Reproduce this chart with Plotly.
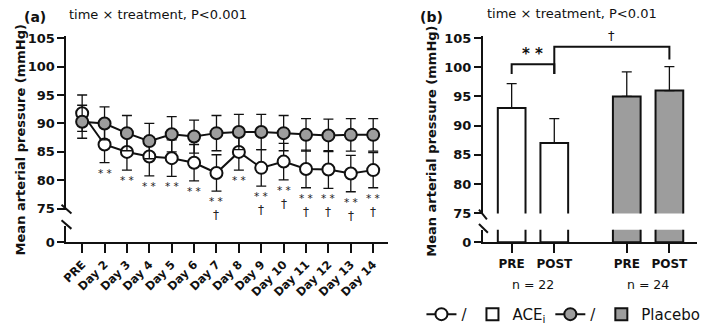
import plotly.graph_objects as go

# ---------------- data ----------------
days = ["PRE", "Day 2", "Day 3", "Day 4", "Day 5", "Day 6", "Day 7", "Day 8",
        "Day 9", "Day 10", "Day 11", "Day 12", "Day 13", "Day 14"]
ace_mean = [91.8, 86.3, 85.0, 84.2, 83.9, 83.1, 81.3, 85.0, 82.2, 83.3, 82.0, 81.9, 81.2, 81.8]
ace_sd = [3.2, 3.2, 3.2, 3.4, 3.2, 3.2, 3.2, 3.2, 3.2, 3.2, 3.3, 3.3, 3.2, 3.1]
pla_mean = [90.3, 90.0, 88.3, 86.9, 88.1, 87.7, 88.3, 88.5, 88.5, 88.3, 88.0, 87.9, 88.0, 88.0]
pla_sd = [2.9, 2.9, 3.1, 3.1, 3.1, 2.9, 3.1, 3.1, 3.1, 3.1, 2.85, 2.85, 2.85, 2.85]
sig_vs_pre = [False] + [True] * 13
sig_vs_placebo = [False, False, False, False, False, False, True, False, True, True, True, True, True, True]

times = ["PRE", "POST"]
ace_bar = [93.0, 87.0]
ace_bar_sd = [4.2, 4.2]
pla_bar = [95.0, 96.0]
pla_bar_sd = [4.2, 4.1]
group_n = [22, 24]
y_ticks = [75, 80, 85, 90, 95, 100, 105]

# ---------------- style ----------------
W, H = 709, 332
FONT = "DejaVu Sans"
GRAY = "#9d9d9d"
BLACK = "#111111"


def px_x(p):
    return p / W


def px_y(p):
    return 1 - p / H


group_offset = [0.0, 2.7]
ace_pos = [group_offset[0] + j for j in range(len(times))]
pla_pos = [group_offset[1] + j for j in range(len(times))]

fig = go.Figure()

# ---------- panel (a) ----------
fig.add_trace(go.Scatter(
    x=days, y=ace_mean, xaxis="x", yaxis="y", mode="lines+markers", name="/",
    legendrank=1,
    line=dict(color=BLACK, width=2),
    marker=dict(size=12, color="white", line=dict(color=BLACK, width=2)),
    error_y=dict(type="data", array=ace_sd, color=BLACK, thickness=1.3, width=5),
    cliponaxis=False,
))
fig.add_trace(go.Scatter(
    x=days, y=pla_mean, xaxis="x", yaxis="y", mode="lines+markers", name="/",
    legendrank=3,
    line=dict(color=BLACK, width=2),
    marker=dict(size=12, color=GRAY, line=dict(color=BLACK, width=2)),
    error_y=dict(type="data", array=pla_sd, color=BLACK, thickness=1.3, width=5),
    cliponaxis=False,
))
fig.add_trace(go.Scatter(x=days, y=[None] * len(days), xaxis="x3", yaxis="y3",
                         mode="markers", showlegend=False, hoverinfo="skip"))

# ---------- panel (b) ----------
fig.add_trace(go.Bar(
    x=ace_pos, y=ace_bar, xaxis="x2", yaxis="y2", width=0.65, name="ACE<sub>i</sub>",
    legendrank=2,
    marker=dict(color="white", line=dict(color=BLACK, width=2)),
    error_y=dict(type="data", symmetric=False, array=ace_bar_sd, arrayminus=[0, 0],
                 color=BLACK, thickness=1.3, width=5),
))
fig.add_trace(go.Bar(
    x=pla_pos, y=pla_bar, xaxis="x2", yaxis="y2", width=0.65, name="Placebo",
    legendrank=4,
    marker=dict(color=GRAY, line=dict(color=BLACK, width=2)),
    error_y=dict(type="data", symmetric=False, array=pla_bar_sd, arrayminus=[0, 0],
                 color=BLACK, thickness=1.3, width=5),
))
fig.add_trace(go.Bar(
    x=ace_pos, y=ace_bar, xaxis="x4", yaxis="y4", width=0.65, showlegend=False,
    marker=dict(color="white", line=dict(color=BLACK, width=2)), hoverinfo="skip",
))
fig.add_trace(go.Bar(
    x=pla_pos, y=pla_bar, xaxis="x4", yaxis="y4", width=0.65, showlegend=False,
    marker=dict(color=GRAY, line=dict(color=BLACK, width=2)), hoverinfo="skip",
))

# ---------- axes ----------
yfont = dict(family=FONT, size=13, color=BLACK, weight="bold")
common_y = dict(showline=True, linewidth=2, linecolor=BLACK, ticks="outside",
                ticklen=7, tickwidth=2, tickcolor=BLACK, showgrid=False,
                zeroline=False, tickfont=yfont)
hidden_x = dict(showline=False, showticklabels=False, ticks="", showgrid=False,
                zeroline=False)

left_dom = [px_x(61), px_x(385)]
right_dom = [px_x(481), px_x(697)]
x_range_a = [-0.7, 13.65]
x_range_b = [-0.674, 4.35]

fig.update_layout(
    xaxis=dict(domain=left_dom, anchor="y", type="category", categoryarray=days,
               range=x_range_a, **hidden_x),
    yaxis=dict(domain=[px_y(213.3), px_y(32.1)], anchor="x", range=[74.8, 105.4],
               tickvals=y_ticks, **common_y),
    xaxis3=dict(domain=left_dom, anchor="y3", type="category", categoryarray=days,
                range=x_range_a, showline=True, linewidth=2, linecolor=BLACK,
                ticks="outside", ticklen=9, tickwidth=2, tickcolor=BLACK,
                tickangle=-45, showgrid=False, zeroline=False,
                tickfont=dict(family=FONT, size=11.5, color=BLACK, weight="bold")),
    yaxis3=dict(domain=[px_y(247), px_y(230)], anchor="x3", range=[0, 3],
                tickvals=[0], **common_y),
    xaxis2=dict(domain=right_dom, anchor="y2", range=x_range_b, **hidden_x),
    yaxis2=dict(domain=[px_y(217), px_y(31.9)], anchor="x2", range=[74.95, 105.4],
                tickvals=y_ticks, **common_y),
    xaxis4=dict(domain=right_dom, anchor="y4", range=x_range_b,
                tickvals=ace_pos + pla_pos, ticktext=times + times,
                showline=True, linewidth=2, linecolor=BLACK,
                ticks="outside", ticklen=9, tickwidth=2, tickcolor=BLACK,
                showgrid=False, zeroline=False,
                tickfont=dict(family=FONT, size=12, color=BLACK, weight="bold")),
    yaxis4=dict(domain=[px_y(247), px_y(234)], anchor="x4", range=[0, 2],
                tickvals=[0], **common_y),
)

# ---------- annotations ----------
ann = []
for i, d in enumerate(days):
    if not (sig_vs_pre[i] or sig_vs_placebo[i]):
        continue
    lines = []
    if sig_vs_pre[i]:
        lines.append("* *")
    if sig_vs_placebo[i]:
        lines.append("<span style='font-size:12px'>†</span>")
    ann.append(dict(x=d, y=ace_mean[i] - ace_sd[i], xref="x", yref="y",
                    text="<br>".join(lines), showarrow=False,
                    xanchor="center", yanchor="top", yshift=-2,
                    font=dict(family=FONT, size=10.5, color="#222222")))

# n labels
for g, n in enumerate(group_n):
    pos = ace_pos if g == 0 else pla_pos
    ann.append(dict(x=sum(pos) / len(pos), y=px_y(290.7), xref="x4", yref="paper",
                    xanchor="center", yanchor="middle",
                    text=f"n = {n}", showarrow=False,
                    font=dict(family=FONT, size=12.5, color=BLACK)))

# significance in panel b
ann.append(dict(x=(ace_pos[0] + ace_pos[1]) / 2, y=px_y(51), xref="x2", yref="paper",
                xanchor="center", yanchor="middle",
                text="<b>* *</b>", showarrow=False,
                font=dict(family=FONT, size=15, color=BLACK)))
ann.append(dict(x=(ace_pos[1] + pla_pos[1]) / 2, y=px_y(32), xref="x2", yref="paper",
                xanchor="center", yanchor="middle",
                text="†", showarrow=False, font=dict(family=FONT, size=13, color=BLACK)))

# titles
center = dict(xanchor="center", yanchor="middle", showarrow=False,
              xref="paper", yref="paper")
ann += [
    dict(x=px_x(29), y=px_y(12), text="<b>(a)</b>",
         font=dict(family=FONT, size=14, color=BLACK), **center),
    dict(x=px_x(62), y=px_y(10), xref="paper", yref="paper", xanchor="left",
         yanchor="middle", text="time × treatment, P<0.001", showarrow=False,
         font=dict(family=FONT, size=13, color=BLACK)),
    dict(x=px_x(429), y=px_y(12), text="<b>(b)</b>",
         font=dict(family=FONT, size=14, color=BLACK), **center),
    dict(x=px_x(483), y=px_y(9), xref="paper", yref="paper", xanchor="left",
         yanchor="middle", text="time × treatment, P<0.01", showarrow=False,
         font=dict(family=FONT, size=13, color=BLACK)),
    dict(x=px_x(15), y=px_y(140), textangle=-90,
         text="<b>Mean arterial pressure (mmHg)</b>",
         font=dict(family=FONT, size=13, color=BLACK), **center),
    dict(x=px_x(429), y=px_y(142), textangle=-90,
         text="<b>Mean arterial pressure (mmHg)</b>",
         font=dict(family=FONT, size=13, color=BLACK), **center),
]

# ---------- shapes: brackets & axis breaks ----------
shapes = []
lw = dict(color=BLACK, width=2)
b1_top, b1_leg = 100.5, 98.85
shapes.append(dict(type="path", xref="x2", yref="y2", line=lw,
                   path=f"M {ace_pos[0]},{b1_leg} L {ace_pos[0]},{b1_top} L {ace_pos[1]},{b1_top} L {ace_pos[1]},{b1_leg}"))
b2_top, b2_leg_l, b2_leg_r = 103.5, 98.85, 101.3
shapes.append(dict(type="path", xref="x2", yref="y2", line=lw,
                   path=f"M {ace_pos[1]},{b2_leg_l} L {ace_pos[1]},{b2_top} L {pla_pos[1]},{b2_top} L {pla_pos[1]},{b2_leg_r}"))
for (x0, y0, x1, y1) in [(56, 208, 66, 217), (56, 224, 66, 233),
                         (477, 213, 485, 223), (477, 228, 486, 237)]:
    shapes.append(dict(type="line", xref="paper", yref="paper",
                       x0=px_x(x0), y0=px_y(y0), x1=px_x(x1), y1=px_y(y1), line=lw))

fig.update_layout(
    width=W, height=H,
    margin=dict(l=0, r=0, t=0, b=0),
    paper_bgcolor="white", plot_bgcolor="white",
    barmode="overlay",
    annotations=ann, shapes=shapes,
    showlegend=True,
    legend=dict(orientation="h", x=px_x(419), xanchor="left", y=px_y(322),
                yanchor="middle",
                font=dict(family=FONT, size=15, color=BLACK),
                bgcolor="rgba(0,0,0,0)", itemwidth=30, tracegroupgap=0),
    font=dict(family=FONT, color=BLACK),
)

# remove the browser's default page margin so the figure fills the window
fig.write_html("out.html",
               config={"displayModeBar": False},
               post_script="document.body.style.margin='0px';document.body.style.overflow='hidden';")
